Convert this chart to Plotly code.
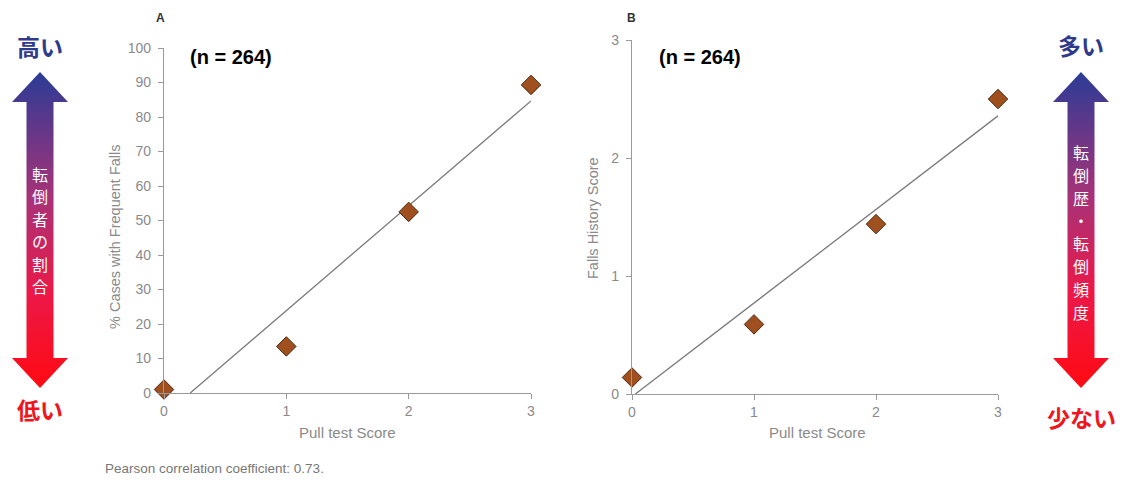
import plotly.graph_objects as go
import numpy as np

W, H = 1126, 480
OFF = 8  # page body margin offset in the browser

# ---------------- data ----------------
pull_scores = [0, 1, 2, 3]
pct_frequent_falls = [1.0, 13.5, 52.5, 89.3]     # panel A
falls_history_score = [0.14, 0.59, 1.44, 2.50]  # panel B
a_xticks = [0, 1, 2, 3]
a_yticks = [0, 10, 20, 30, 40, 50, 60, 70, 80, 90, 100]
b_yticks = [0, 1, 2, 3]

GRAY = "#8a8a8a"
AXC = "#9a9a9a"
MFILL = "#A0501E"
MLINE = "#4a2a14"

def px_x(p):
    return (p - OFF) / W

def px_y(p):
    return 1 - (p - OFF) / H

fig = go.Figure()

def reg_line(xs, ys, ymin):
    xs = np.array(xs, float); ys = np.array(ys, float)
    m, b = np.polyfit(xs, ys, 1)
    x0 = max(xs.min(), (ymin - b) / m)
    x1 = xs.max()
    return [x0, x1], [m * x0 + b, m * x1 + b]

# Panel A
lx, ly = reg_line(pull_scores, pct_frequent_falls, 0)
fig.add_trace(go.Scatter(x=lx, y=ly, mode="lines", line=dict(color="#7a7a7a", width=1.3),
                         xaxis="x", yaxis="y", showlegend=False, hoverinfo="skip"))
fig.add_trace(go.Scatter(x=pull_scores, y=pct_frequent_falls, mode="markers",
                         marker=dict(symbol="diamond", size=15, color=MFILL, line=dict(color=MLINE, width=1)),
                         xaxis="x", yaxis="y", showlegend=False, cliponaxis=False))
# Panel B
lx, ly = reg_line(pull_scores, falls_history_score, 0)
fig.add_trace(go.Scatter(x=lx, y=ly, mode="lines", line=dict(color="#7a7a7a", width=1.3),
                         xaxis="x2", yaxis="y2", showlegend=False, hoverinfo="skip"))
fig.add_trace(go.Scatter(x=pull_scores, y=falls_history_score, mode="markers",
                         marker=dict(symbol="diamond", size=15, color=MFILL, line=dict(color=MLINE, width=1)),
                         xaxis="x2", yaxis="y2", showlegend=False, cliponaxis=False))

# Gradient arrows (decoration) on a full-page pixel axis pair
def arrow(cx, top, bot, head_half, shaft_half, head_len):
    xs = [cx, cx + head_half, cx + shaft_half, cx + shaft_half, cx + head_half, cx,
          cx - head_half, cx - shaft_half, cx - shaft_half, cx - head_half, cx]
    ys = [top, top + head_len, top + head_len, bot - head_len, bot - head_len, bot,
          bot - head_len, bot - head_len, top + head_len, top + head_len, top]
    return xs, [H - y for y in ys]

grad = [[0, "#FF0A12"], [0.3, "#EC1848"], [0.6, "#A83278"], [1, "#2B3C96"]]
for cx in (40, 1081):
    ax_, ay_ = arrow(cx, 72, 388, 28, 13.5, 30)
    fig.add_trace(go.Scatter(x=ax_, y=ay_, mode="lines", fill="toself",
                             line=dict(width=0, color="rgba(0,0,0,0)"),
                             fillgradient=dict(type="vertical", colorscale=grad),
                             xaxis="x3", yaxis="y3", showlegend=False, hoverinfo="skip"))

axis_common = dict(showline=True, linecolor=AXC, linewidth=1.3, ticks="outside", ticklen=5,
                   tickcolor=AXC, tickwidth=1, showgrid=False, zeroline=False,
                   tickfont=dict(family="Liberation Sans, Arial", size=14, color=GRAY))

fig.update_layout(
    width=W, height=H, margin=dict(l=0, r=0, t=0, b=0, pad=0, autoexpand=False),
    paper_bgcolor="white", plot_bgcolor="rgba(0,0,0,0)",
    xaxis=dict(domain=[px_x(164), px_x(531)], range=[0, 3], tickvals=a_xticks, anchor="y",
               **axis_common),
    yaxis=dict(domain=[px_y(393), px_y(48)], range=[0, 100], tickvals=a_yticks, anchor="x",
               ticklabelstandoff=4, **axis_common),
    xaxis2=dict(domain=[px_x(632), px_x(998)], range=[0, 3], tickvals=a_xticks, anchor="y2",
                **axis_common),
    yaxis2=dict(domain=[px_y(394), px_y(40)], range=[0, 3], tickvals=b_yticks, anchor="x2",
                ticklabelstandoff=4, **axis_common),
    xaxis3=dict(domain=[0, 1], range=[OFF, W + OFF], visible=False, anchor="y3", fixedrange=True),
    yaxis3=dict(domain=[0, 1], range=[-OFF, H - OFF], visible=False, anchor="x3", fixedrange=True),
)

anns = []
def ann(text, x, y, size, color, bold=False, family="Liberation Sans, Arial", angle=0, xanchor="center"):
    anns.append(dict(text=f"<b>{text}</b>" if bold else text, x=px_x(x), y=px_y(y),
                     xref="paper", yref="paper", showarrow=False, textangle=angle,
                     xanchor=xanchor, yanchor="middle",
                     font=dict(size=size, color=color, family=family)))

ann("A", 160, 18, 12, "#333333", bold=True)
ann("B", 631, 18, 12, "#333333", bold=True)
ann("(n = 264)", 231, 57, 20, "#000000", bold=True)
ann("(n = 264)", 700, 57, 20, "#000000", bold=True)
ann("% Cases with Frequent Falls", 115, 237, 14.5, GRAY, angle=-90)
ann("Falls History Score", 593, 218, 14.5, GRAY, angle=-90)
ann("Pull test Score", 347, 432, 15, GRAY)
ann("Pull test Score", 817, 432, 15, GRAY)
ann("Pearson correlation coefficient: 0.73.", 103, 468, 13.5, "#777777", xanchor="left")

JP = "Noto Sans CJK JP"
ann("高い", 40, 46, 23, "#2E3A8C", bold=True, family=JP)
ann("低い", 40, 409, 23, "#F0141C", bold=True, family=JP)
ann("多い", 1081, 45, 23, "#2E3A8C", bold=True, family=JP)
ann("少ない", 1081, 417, 23, "#F0141C", bold=True, family=JP)
for i, ch in enumerate("転倒者の割合"):
    ann(ch, 40, 174 + i * 22.4, 16, "white", family=JP)
for i, ch in enumerate("転倒歴・転倒頻度"):
    ann(ch, 1081, 152 + i * 22.8, 16, "white", family=JP)

fig.update_layout(annotations=anns)
fig.write_html("out.html")
